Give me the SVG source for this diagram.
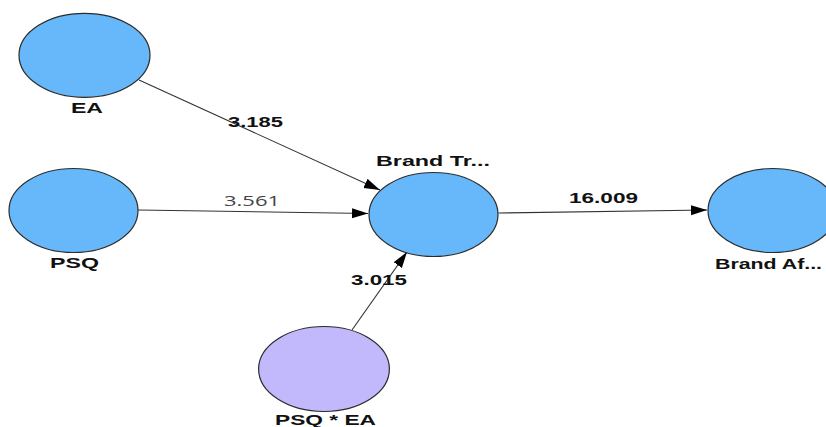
<svg xmlns="http://www.w3.org/2000/svg" width="826" height="427" viewBox="0 0 826 427">
<defs>
<style>
.lv{fill:#66b8fa;stroke:#2b2b2b;stroke-width:1.2}
.mod{fill:#c1b9fb;stroke:#2b2b2b;stroke-width:1.2}
.lbl{font-family:"Liberation Sans",Arial,sans-serif;font-weight:bold;font-size:15px;fill:#111}
.val{font-family:"Liberation Sans",Arial,sans-serif;font-weight:bold;font-size:15px;fill:#111}
.valr{font-family:"Open Sans","Liberation Sans",sans-serif;font-size:15px;fill:#444}
.edge{stroke:#333;stroke-width:1.1;fill:none;marker-end:url(#arr)}
</style>
<marker id="arr" markerUnits="userSpaceOnUse" markerWidth="17" markerHeight="11" refX="16" refY="5" orient="auto">
<path d="M0,0 L16,5 L0,10 Z" fill="#000"/>
</marker>
</defs>
<rect width="826" height="427" fill="#fff"/>
<g id="connectors">
<line class="edge" x1="139" y1="80" x2="380" y2="190"/>
<line class="edge" x1="138" y1="210" x2="368" y2="213.5"/>
<line class="edge" x1="498.5" y1="213" x2="707" y2="210"/>
<line class="edge" x1="352" y1="330" x2="407" y2="252"/>
</g>
<g id="EA">
<ellipse class="lv" cx="84.5" cy="55.3" rx="65.5" ry="42"/>
<text class="lbl" x="71" y="113" textLength="32" lengthAdjust="spacingAndGlyphs">EA</text>
</g>
<g id="PSQ">
<ellipse class="lv" cx="73.5" cy="210.5" rx="64.5" ry="42"/>
<text class="lbl" x="50" y="268" textLength="49" lengthAdjust="spacingAndGlyphs">PSQ</text>
</g>
<g id="BrandTr">
<ellipse class="lv" cx="433.5" cy="214.5" rx="64.5" ry="42"/>
<text class="lbl" x="376" y="166" textLength="114" lengthAdjust="spacingAndGlyphs">Brand Tr...</text>
</g>
<g id="BrandAf">
<ellipse class="lv" cx="772.5" cy="210.5" rx="64.5" ry="42"/>
<text class="lbl" x="715" y="269" textLength="107" lengthAdjust="spacingAndGlyphs">Brand Af...</text>
</g>
<g id="PSQxEA">
<ellipse class="mod" cx="324" cy="369" rx="65.4" ry="42.5"/>
<text class="lbl" x="275" y="425" textLength="101" lengthAdjust="spacingAndGlyphs">PSQ * EA</text>
</g>
<g id="edge-labels">
<text class="val" x="228" y="127" textLength="55" lengthAdjust="spacingAndGlyphs">3.185</text>
<text class="valr" x="224" y="206" textLength="56" lengthAdjust="spacingAndGlyphs">3.561</text>
<text class="val" x="569" y="203" textLength="69" lengthAdjust="spacingAndGlyphs">16.009</text>
<text class="val" x="351" y="285" textLength="56" lengthAdjust="spacingAndGlyphs">3.015</text>
</g>
</svg>
